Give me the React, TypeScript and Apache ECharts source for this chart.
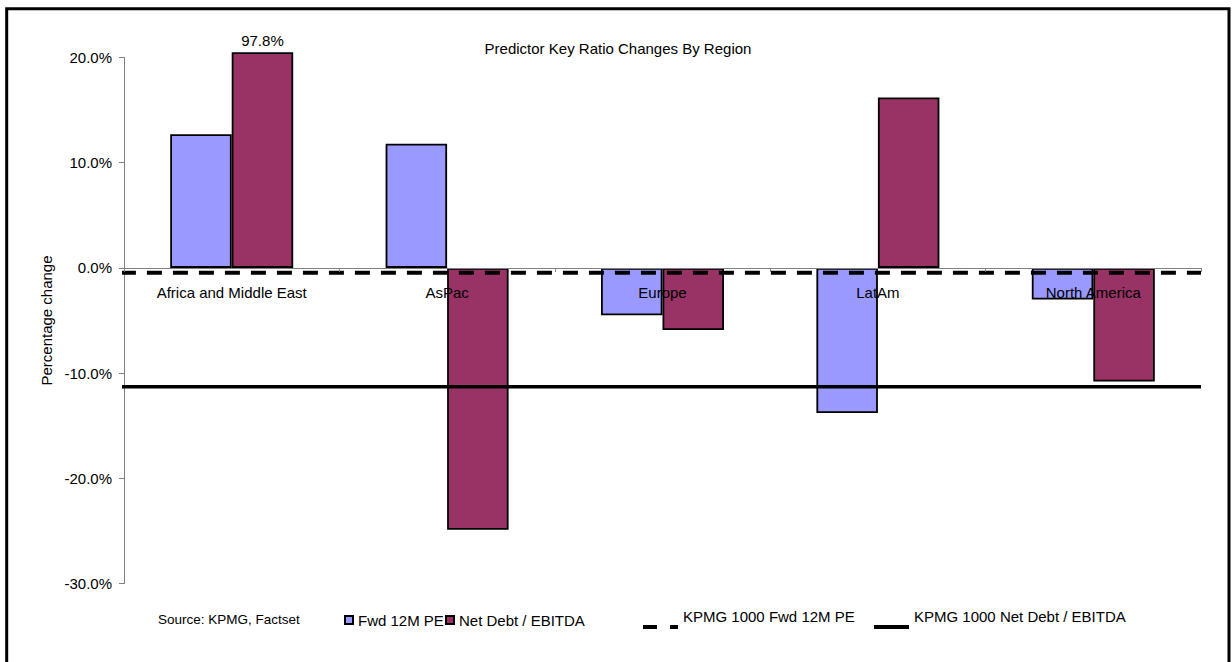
import React, { useEffect, useRef } from 'react';
import * as echarts from 'echarts';

const categories = ['Africa and Middle East', 'AsPac', 'Europe', 'LatAm', 'North America'];
const fwdPE = [12.7, 11.8, -4.5, -13.8, -3.0];
const netDebtEbitda = [97.8, -24.9, -5.9, 16.2, -10.8];
const kpmgFwdPE = -0.45;
const kpmgNetDebt = -11.3;
const yMin = -30;
const yMax = 20;
const yInterval = 10;
// the off-scale bar is drawn just past the axis top, as in the source
const barClipTop = 20.5;
// the benchmark lines begin slightly left of the value axis (fraction of plot width)
const lineStart = -0.027;
const lineEnd = 1;

const FONT = '"Liberation Sans", Arial, sans-serif';
const BLUE = '#9999FF';
const RED = '#993366';

const GRID_TOP = 57.5;
const GRID_BOTTOM = 78.5;
const CHART_H = 662;
const PLOT_H = CHART_H - GRID_TOP - GRID_BOTTOM;
// category axis sits at value 0 (moved up from the plot bottom)
const xAxisOffset = -((0 - yMin) / (yMax - yMin)) * PLOT_H;

const dashIcon = 'path://M0,0 M0,22 h14 v4 h-14 z M27,22 h8 v4 h-8 z M35,0';
const solidIcon = 'path://M0,0 M0,22 h35 v4 h-35 z M35,0';

function barData(values: number[]) {
  return values.map((v) => {
    if (v > barClipTop) {
      return {
        value: barClipTop,
        label: {
          show: true,
          position: 'top',
          distance: 4,
          formatter: v.toFixed(1) + '%',
          fontSize: 15,
          color: '#000',
          fontFamily: FONT,
        },
      };
    }
    return { value: v };
  });
}

export default function App() {
  const ref = useRef<HTMLDivElement>(null);
  useEffect(() => {
    if (!ref.current) return;
    const chart = echarts.init(ref.current, null, { renderer: 'svg' });
    const textStyle = { fontSize: 15, color: '#000', fontFamily: FONT };
    chart.setOption({
      animation: false,
      backgroundColor: '#fff',
      title: {
        text: 'Predictor Key Ratio Changes By Region',
        left: 618,
        textAlign: 'center',
        top: 41,
        padding: 0,
        textStyle: { ...textStyle, fontWeight: 'normal' },
      },
      grid: { left: 124, right: 31, top: GRID_TOP, bottom: GRID_BOTTOM, containLabel: false },
      xAxis: [
        {
          type: 'category',
          data: categories,
          position: 'bottom',
          offset: xAxisOffset,
          z: 5,
          axisLine: { onZero: false, lineStyle: { color: '#808080', width: 1 } },
          axisTick: { show: true, length: 4, lineStyle: { color: '#808080' } },
          axisLabel: { ...textStyle, margin: 17, interval: 0 },
          splitLine: { show: false },
        },
        {
          type: 'value',
          min: 0,
          max: 1,
          show: false,
        },
      ],
      yAxis: {
        type: 'value',
        min: yMin,
        max: yMax,
        interval: yInterval,
        name: 'Percentage change',
        nameLocation: 'middle',
        nameGap: 68,
        nameTextStyle: textStyle,
        axisLine: { show: true, onZero: false, lineStyle: { color: '#808080', width: 1 } },
        axisTick: { show: true, length: 5, lineStyle: { color: '#808080' } },
        axisLabel: {
          ...textStyle,
          margin: 12,
          formatter: (v: number) => v.toFixed(1) + '%',
        },
        splitLine: { show: false },
      },
      legend: [
        {
          data: ['Fwd 12M PE'],
          left: 344,
          top: 612.5,
          padding: 0,
          icon: 'rect',
          itemWidth: 8,
          itemHeight: 8,
          selectedMode: false,
          textStyle,
        },
        {
          data: ['Net Debt / EBITDA'],
          left: 445,
          top: 612.5,
          padding: 0,
          icon: 'rect',
          itemWidth: 8,
          itemHeight: 8,
          selectedMode: false,
          textStyle,
        },
        {
          data: [{ name: 'KPMG 1000 Fwd 12M PE', icon: dashIcon }],
          left: 643,
          top: 603,
          padding: 0,
          itemWidth: 35,
          itemHeight: 26,
          itemStyle: { borderWidth: 0 },
          selectedMode: false,
          textStyle,
        },
        {
          data: [{ name: 'KPMG 1000 Net Debt / EBITDA', icon: solidIcon }],
          left: 874,
          top: 603,
          padding: 0,
          itemWidth: 35,
          itemHeight: 26,
          itemStyle: { borderWidth: 0 },
          selectedMode: false,
          textStyle,
        },
      ],
      graphic: [
        {
          type: 'rect',
          shape: { x: 6.7, y: 8.7, width: 1222.3, height: 700 },
          style: { fill: 'none', stroke: '#000', lineWidth: 3 },
          silent: true,
          z: 100,
        },
        {
          type: 'text',
          left: 158,
          top: 612.5,
          style: { text: 'Source: KPMG, Factset', fontSize: 13.5, fill: '#000', fontFamily: FONT },
        },
      ],
      series: [
        {
          name: 'Fwd 12M PE',
          type: 'bar',
          data: barData(fwdPE),
          barWidth: 61.5,
          barGap: '0%',
          clip: false,
          itemStyle: { color: BLUE, borderColor: '#000', borderWidth: 1.8 },
          z: 2,
        },
        {
          name: 'Net Debt / EBITDA',
          type: 'bar',
          data: barData(netDebtEbitda),
          barWidth: 61.5,
          barGap: '0%',
          clip: false,
          itemStyle: { color: RED, borderColor: '#000', borderWidth: 1.8 },
          z: 2,
        },
        {
          name: 'KPMG 1000 Fwd 12M PE',
          type: 'line',
          xAxisIndex: 1,
          yAxisIndex: 0,
          data: [
            [lineStart, kpmgFwdPE],
            [lineEnd, kpmgFwdPE],
          ],
          symbol: 'none',
          clip: false,
          color: '#000',
          lineStyle: { color: '#000', width: 4, type: [15, 11] },
          z: 4,
        },
        {
          name: 'KPMG 1000 Net Debt / EBITDA',
          type: 'line',
          xAxisIndex: 1,
          yAxisIndex: 0,
          data: [
            [lineStart, kpmgNetDebt],
            [lineEnd, kpmgNetDebt],
          ],
          symbol: 'none',
          clip: false,
          color: '#000',
          lineStyle: { color: '#000', width: 3.5 },
          z: 4,
        },
      ],
    });
    return () => chart.dispose();
  }, []);
  return (
    <div
      ref={ref}
      style={{ position: 'absolute', left: 0, top: 0, width: 1232, height: 662 }}
    />
  );
}
